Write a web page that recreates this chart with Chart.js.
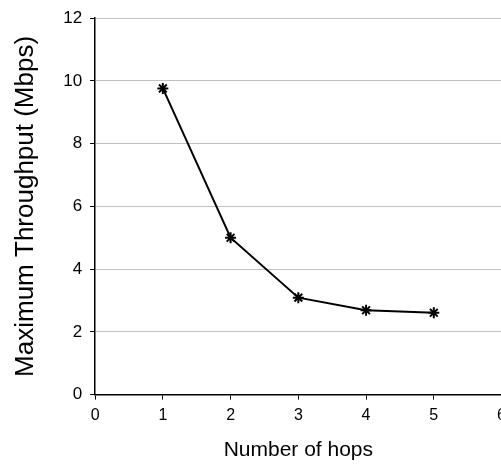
<!DOCTYPE html>
<html>
<head>
<meta charset="utf-8">
<script src="https://cdn.jsdelivr.net/npm/chart.js@4"></script>
<style>
  html, body { margin: 0; padding: 0; background: #fff; overflow: hidden; }
  #wrap { width: 512px; height: 465px; }
</style>
</head>
<body>
<div id="wrap"><canvas id="hopschart" width="512" height="465"></canvas></div>
<script>
// throughput measured against hop count
const hops = [1, 2, 3, 4, 5];
const throughput = [9.76, 5.0, 3.09, 2.69, 2.61];

const points = hops.map((h, i) => ({ x: h, y: throughput[i] }));

const ctx = document.getElementById('hopschart').getContext('2d');

const myChart = new Chart(ctx, {
    type: 'line',
    data: {
        datasets: [
            {
                label: 'Throughput',
                data: points,
                borderColor: '#000',
                backgroundColor: '#000',
                borderWidth: 2,
                pointStyle: 'star',
                pointRadius: 5.5,
                pointBorderWidth: 2,
                pointBorderColor: '#000',
                tension: 0,
                fill: false,
            },
        ],
    },
    options: {
        responsive: false,
        animation: false,
        layout: {
            padding: { top: 0, left: 10, right: 0, bottom: 2 }
        },
        plugins: {
            legend: { display: false },
            tooltip: { enabled: false }
        },
        scales: {
            x: {
                type: 'linear',
                min: 0,
                max: 6,
                ticks: {
                    stepSize: 1,
                    color: '#000',
                    padding: 6,
                    font: { family: 'Liberation Sans', size: 16 }
                },
                grid: {
                    drawOnChartArea: false,
                    tickColor: '#000',
                    tickLength: 5,
                },
                border: { color: '#000', width: 1.5 },
                title: {
                    display: true,
                    text: 'Number of hops',
                    color: '#000',
                    padding: { top: 7, bottom: 0 },
                    font: { family: 'Liberation Sans', size: 21 }
                },
            },
            y: {
                min: 0,
                max: 12,
                ticks: {
                    stepSize: 2,
                    color: '#000',
                    padding: 8,
                    font: { family: 'Liberation Sans', size: 17 }
                },
                grid: {
                    color: '#c0c0c0',
                    lineWidth: 1,
                    tickColor: '#000',
                    tickLength: 5,
                },
                border: { color: '#000', width: 1.5 },
                title: {
                    display: true,
                    text: 'Maximum Throughput (Mbps)',
                    color: '#000',
                    padding: { top: 0, bottom: 14 },
                    font: { family: 'Liberation Sans', size: 26 }
                },
            },
        },
    },
});
</script>
</body>
</html>
